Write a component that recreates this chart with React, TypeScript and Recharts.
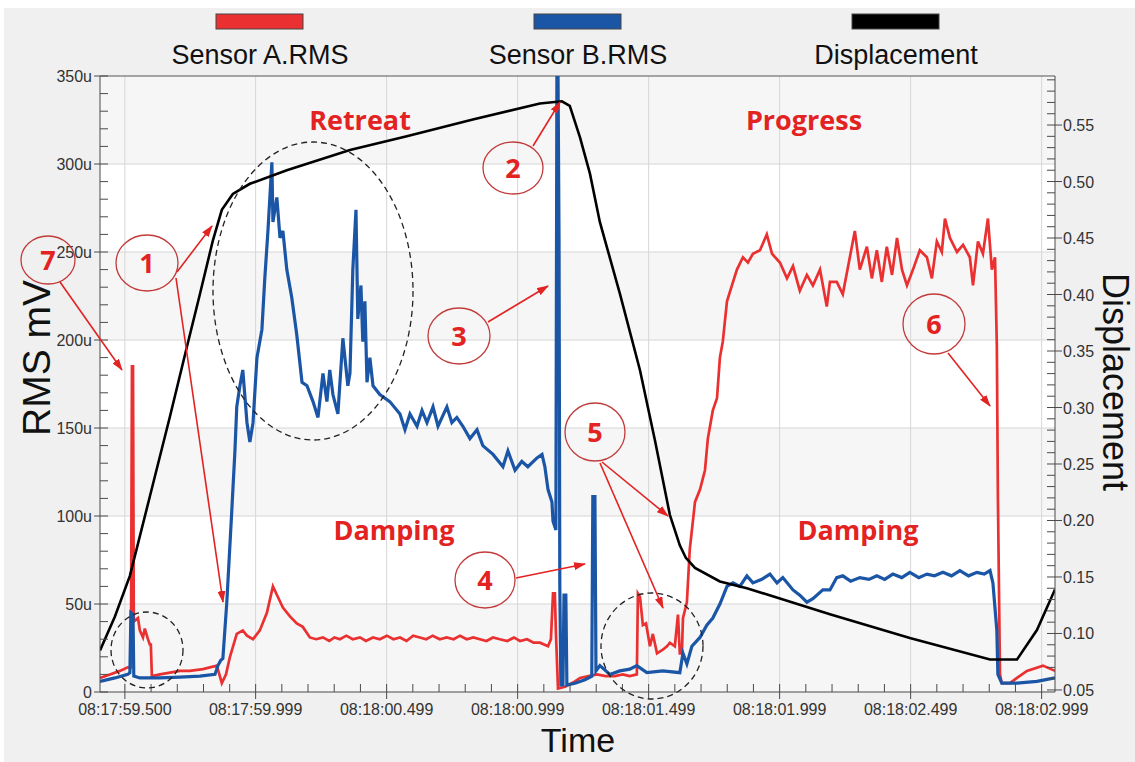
import React from 'react';
import { LineChart, Line, XAxis, YAxis, ReferenceLine, ReferenceArea } from 'recharts';

// time axis: milliseconds after 08:17:59.000
const dispTime = [405, 462, 519, 595, 672, 737, 786, 836, 870, 912, 977, 1118, 1359, 1576, 1828, 2084, 2168, 2198, 2237, 2275, 2313, 2389, 2466, 2523, 2580, 2618, 2641, 2676, 2771, 2874, 3000, 3191, 3496, 3802, 3905, 3981, 4050];
const dispValue = [0.085, 0.115, 0.151, 0.221, 0.292, 0.354, 0.4, 0.448, 0.475, 0.489, 0.498, 0.51, 0.528, 0.54, 0.555, 0.569, 0.571, 0.567, 0.539, 0.507, 0.464, 0.401, 0.333, 0.271, 0.205, 0.178, 0.167, 0.158, 0.146, 0.14, 0.131, 0.117, 0.096, 0.077, 0.077, 0.103, 0.139];

const sensorATime = [405, 443, 481, 511, 523, 527, 531, 534, 550, 557, 569, 576, 588, 595, 599, 603, 634, 672, 710, 748, 798, 851, 870, 886, 901, 927, 950, 966, 989, 1015, 1042, 1065, 1084, 1103, 1130, 1156, 1179, 1206, 1230, 1256, 1280, 1300, 1321, 1345, 1370, 1397, 1420, 1447, 1473, 1500, 1525, 1550, 1575, 1600, 1626, 1650, 1675, 1702, 1728, 1755, 1779, 1805, 1830, 1855, 1880, 1905, 1931, 1960, 1985, 2008, 2035, 2060, 2084, 2115, 2126, 2134, 2141, 2145, 2153, 2180, 2218, 2237, 2270, 2302, 2335, 2370, 2400, 2427, 2454, 2458, 2466, 2477, 2489, 2504, 2515, 2531, 2553, 2569, 2580, 2599, 2611, 2618, 2626, 2630, 2645, 2656, 2676, 2695, 2714, 2725, 2744, 2760, 2771, 2782, 2798, 2817, 2836, 2859, 2878, 2897, 2924, 2950, 2970, 3000, 3027, 3050, 3076, 3103, 3126, 3153, 3179, 3191, 3217, 3240, 3267, 3286, 3305, 3332, 3351, 3370, 3389, 3408, 3428, 3447, 3466, 3485, 3508, 3534, 3561, 3580, 3599, 3618, 3630, 3649, 3676, 3699, 3725, 3737, 3756, 3775, 3794, 3809, 3821, 3828, 3832, 3840, 3847, 3878, 3905, 3943, 4004, 4050];
const sensorARms = [8, 10, 12, 14, 14, 185, 185, 40, 42, 35, 31, 36, 30, 27, 27, 9, 10, 11, 12, 12, 13, 15, 5, 10, 20, 33, 35, 32, 30, 35, 45, 60, 54, 48, 43, 39, 37, 31, 30, 31, 29, 31, 30, 32, 30, 31, 29, 31, 30, 32, 30, 31, 29, 32, 31, 30, 32, 30, 31, 30, 32, 30, 31, 30, 29, 31, 30, 29, 31, 29, 30, 28, 28, 26, 30, 56, 56, 34, 2, 3, 6, 8, 9, 10, 9, 9, 10, 9, 10, 56, 54, 38, 39, 26, 33, 22, 24, 26, 28, 26, 44, 22, 22, 42, 51, 81, 108, 115, 126, 144, 160, 167, 190, 199, 222, 231, 240, 247, 244, 249, 251, 260, 249, 244, 235, 242, 228, 237, 231, 240, 219, 233, 233, 226, 247, 262, 240, 253, 235, 251, 233, 253, 237, 258, 240, 231, 240, 251, 247, 235, 256, 250, 269, 258, 250, 254, 247, 231, 256, 249, 269, 240, 247, 197, 112, 10, 5, 5, 8, 12, 15, 12];

const sensorBTime = [405, 462, 511, 519, 523, 531, 534, 557, 634, 710, 786, 844, 855, 866, 874, 889, 908, 920, 927, 939, 950, 966, 977, 989, 1004, 1023, 1034, 1046, 1061, 1065, 1080, 1092, 1103, 1118, 1137, 1156, 1176, 1195, 1218, 1237, 1256, 1271, 1282, 1294, 1313, 1332, 1351, 1359, 1370, 1382, 1389, 1401, 1408, 1416, 1424, 1435, 1447, 1473, 1511, 1550, 1569, 1588, 1615, 1634, 1653, 1676, 1695, 1729, 1748, 1767, 1790, 1817, 1844, 1866, 1905, 1943, 1962, 1989, 2015, 2038, 2073, 2092, 2103, 2115, 2130, 2134, 2145, 2149, 2153, 2157, 2160, 2164, 2172, 2176, 2183, 2187, 2218, 2256, 2282, 2286, 2294, 2298, 2313, 2351, 2389, 2427, 2454, 2492, 2553, 2618, 2630, 2645, 2664, 2695, 2721, 2744, 2771, 2798, 2821, 2847, 2874, 2897, 2931, 2962, 2989, 3011, 3050, 3076, 3103, 3126, 3164, 3191, 3217, 3240, 3270, 3305, 3340, 3370, 3400, 3431, 3465, 3496, 3530, 3561, 3590, 3622, 3655, 3687, 3720, 3752, 3780, 3802, 3813, 3828, 3832, 3847, 3905, 3981, 4050];
const sensorBRms = [6, 8, 10, 11, 45, 44, 9, 8, 8, 8.5, 9, 10, 15, 18, 19, 51, 103, 137, 162, 174, 183, 153, 142, 153, 190, 206, 235, 262, 301, 267, 281, 258, 262, 240, 224, 203, 176, 174, 165, 156, 181, 165, 183, 169, 158, 201, 174, 181, 240, 274, 212, 231, 199, 222, 176, 190, 174, 169, 165, 158, 149, 158, 151, 160, 153, 162, 151, 162, 153, 156, 151, 144, 149, 140, 135, 128, 137, 126, 131, 128, 133, 135, 128, 115, 108, 97, 92, 360, 355, 258, 60, 4, 4, 55, 55, 4, 5, 7, 9, 111, 111, 12, 15, 10, 12, 13, 15, 11, 12, 11, 22, 16, 26, 31, 38, 42, 50, 60, 62, 60, 66, 62, 64, 67, 62, 65, 58, 55, 51, 53, 58, 58, 65, 66, 63, 65, 64, 66, 64, 67, 65, 68, 65, 67, 66, 68, 66, 69, 66, 68, 67, 69, 62, 35, 10, 5, 5, 6, 8];

const timeTicks = [500, 999, 1499, 1999, 2499, 2999, 3499, 3999];
const timeLabels = ['08:17:59.500', '08:17:59.999', '08:18:00.499', '08:18:00.999', '08:18:01.499', '08:18:01.999', '08:18:02.499', '08:18:02.999'];
const rmsMajor = [0, 50, 100, 150, 200, 250, 300, 350];

const seriesNames = ['Sensor A.RMS', 'Sensor B.RMS', 'Displacement'];
const seriesColors = ['#ea3030', '#1b56a6', '#000000'];

const zip = (ts: number[], vs: number[]) => ts.map((t, i) => ({ t, v: vs[i] }));
const dispData = zip(dispTime, dispValue);
const aData = zip(sensorATime, sensorARms);
const bData = zip(sensorBTime, sensorBRms);

const xAllTicks: number[] = [];
timeTicks.forEach((s) => {
  xAllTicks.push(s);
  for (let k = 1; k < 5; k++) if (s + k * 100 < 4050) xAllTicks.push(s + k * 100);
});
const rmsTicks: number[] = [];
for (let v = 0; v <= 350; v += 10) rmsTicks.push(v);
const dispTicks: number[] = [];
for (let k = 5; k <= 59; k++) dispTicks.push(k / 100);

const AX = '#4a4a4a';
const FONT = '"Liberation Sans", Arial, sans-serif';

const XTick = (props: any) => {
  const { x, y, payload } = props;
  const idx = timeTicks.indexOf(payload.value);
  if (idx < 0) return <line x1={x} x2={x} y1={y} y2={y - 8} stroke={AX} />;
  return (
    <g>
      <line x1={x} x2={x} y1={y - 8} y2={y + 7} stroke={AX} />
      <text x={x} y={y + 23} textAnchor="middle" fontSize={16} fontFamily={FONT} fill="#333">
        {timeLabels[idx]}
      </text>
    </g>
  );
};

const LeftTick = (props: any) => {
  const { x, y, payload } = props;
  const v = payload.value;
  const major = v % 50 === 0;
  return (
    <g>
      <line x1={x} x2={x + 8} y1={y} y2={y} stroke={AX} />
      {major && <line x1={x - 6} x2={x} y1={y} y2={y} stroke={AX} />}
      {major && (
        <text x={x - 8} y={y + 6} textAnchor="end" fontSize={16} fontFamily={FONT} fill="#333">
          {v === 0 ? '0' : `${v}u`}
        </text>
      )}
    </g>
  );
};

const RightTick = (props: any) => {
  const { x, y, payload } = props;
  const v = payload.value;
  const major = Math.round(v * 100) % 5 === 0 && v < 0.56;
  return (
    <g>
      <line x1={x - 8} x2={x} y1={y} y2={y} stroke={AX} />
      {major && <line x1={x} x2={x + 7} y1={y} y2={y} stroke={AX} />}
      {major && (
        <text x={x + 8} y={y + 6} textAnchor="start" fontSize={16} fontFamily={FONT} fill="#333">
          {v.toFixed(2)}
        </text>
      )}
    </g>
  );
};

const RED = '#e32222';
const CIRCLE = '#c23b3b';

const circles = [
  { n: '7', cx: 48, cy: 260, rx: 27, ry: 24 },
  { n: '1', cx: 147, cy: 263, rx: 31, ry: 28 },
  { n: '2', cx: 513, cy: 168, rx: 30, ry: 26 },
  { n: '3', cx: 459, cy: 336, rx: 31, ry: 28 },
  { n: '4', cx: 485, cy: 580, rx: 30, ry: 28 },
  { n: '5', cx: 595, cy: 432, rx: 30, ry: 29 },
  { n: '6', cx: 934, cy: 324, rx: 31, ry: 30 },
];
const arrows = [
  [60, 282, 122, 370],
  [177, 272, 212, 226],
  [176, 278, 223, 602],
  [533, 146, 560, 102],
  [488, 322, 548, 286],
  [516, 578, 585, 564],
  [602, 462, 668, 516],
  [600, 463, 663, 608],
  [948, 353, 990, 406],
];
const dashed = [
  { cx: 313, cy: 291, rx: 100, ry: 149 },
  { cx: 147, cy: 650, rx: 36, ry: 38 },
  { cx: 652, cy: 646, rx: 51, ry: 53 },
];
const phaseLabels = [
  { text: 'Retreat', x: 360, y: 130 },
  { text: 'Progress', x: 804, y: 130 },
  { text: 'Damping', x: 394, y: 540 },
  { text: 'Damping', x: 858, y: 540 },
];

export default function App() {
  return (
    <div style={{ position: 'absolute', left: 0, top: 0, width: 1135, height: 762, background: '#fff', overflow: 'hidden' }}>
      <div style={{ position: 'absolute', left: 4, top: 8, right: 0, bottom: 0, background: '#f0f0f0' }} />
      <div style={{ position: 'absolute', left: 0, top: 0 }}>
        <LineChart width={1135} height={762} margin={{ top: 76, right: 0, bottom: 0, left: 0 }}>
          <XAxis
            xAxisId="t"
            dataKey="t"
            type="number"
            domain={[405, 4050]}
            allowDataOverflow
            ticks={xAllTicks}
            interval={0}
            height={70}
            tickSize={0}
            tickMargin={0}
            tickLine={false}
            axisLine={{ stroke: AX }}
            tick={<XTick />}
          />
          <YAxis
            yAxisId="rms"
            orientation="left"
            type="number"
            domain={[0, 350]}
            allowDataOverflow
            ticks={rmsTicks}
            interval={0}
            width={100}
            tickSize={0}
            tickMargin={0}
            tickLine={false}
            axisLine={{ stroke: AX }}
            tick={<LeftTick />}
          />
          <YAxis
            yAxisId="disp"
            orientation="right"
            type="number"
            domain={[0.0482, 0.5934]}
            allowDataOverflow
            ticks={dispTicks}
            interval={0}
            width={80}
            tickSize={0}
            tickMargin={0}
            tickLine={false}
            axisLine={{ stroke: AX }}
            tick={<RightTick />}
          />
          {rmsMajor.slice(0, 7).map((v, i) => (
            <ReferenceArea
              key={`band-${v}`}
              xAxisId="t"
              yAxisId="rms"
              y1={v}
              y2={v + 50}
              fill={i % 2 === 0 ? '#f6f6f6' : '#ffffff'}
              fillOpacity={1}
              stroke="none"
            />
          ))}
          {rmsMajor.slice(1, 7).map((v) => (
            <ReferenceLine key={`h-${v}`} xAxisId="t" yAxisId="rms" y={v} stroke="#d6d6d6" />
          ))}
          {timeTicks.map((t) => (
            <ReferenceLine key={`v-${t}`} xAxisId="t" yAxisId="rms" x={t} stroke="#d6d6d6" />
          ))}
          <ReferenceLine xAxisId="t" yAxisId="rms" y={350} stroke="#555" />
          <Line
            xAxisId="t"
            yAxisId="rms"
            data={aData}
            dataKey="v"
            name={seriesNames[0]}
            stroke={seriesColors[0]}
            strokeWidth={2.7}
            dot={false}
            type="linear"
            isAnimationActive={false}
          />
          <Line
            xAxisId="t"
            yAxisId="rms"
            data={bData}
            dataKey="v"
            name={seriesNames[1]}
            stroke={seriesColors[1]}
            strokeWidth={3.2}
            dot={false}
            type="linear"
            isAnimationActive={false}
          />
          <Line
            xAxisId="t"
            yAxisId="disp"
            data={dispData}
            dataKey="v"
            name={seriesNames[2]}
            stroke={seriesColors[2]}
            strokeWidth={2.6}
            dot={false}
            type="linear"
            isAnimationActive={false}
          />
        </LineChart>
      </div>
      <svg width={1135} height={762} style={{ position: 'absolute', left: 0, top: 0, pointerEvents: 'none' }}>
        <defs>
          <marker id="ah" viewBox="0 0 12 8" refX="11" refY="4" markerWidth="12" markerHeight="8" markerUnits="userSpaceOnUse" orient="auto">
            <path d="M0,0 L12,4 L0,8 z" fill={RED} />
          </marker>
        </defs>
        {seriesNames.map((name, i) => {
          const cx = [260, 578, 896][i];
          return (
            <g key={name}>
              <rect x={cx - 44} y={14} width={87} height={15} fill={seriesColors[i]} stroke="#444" strokeWidth={1} />
              <text x={cx} y={64} textAnchor="middle" fontSize={27} fontFamily={FONT} fill="#111">
                {name}
              </text>
            </g>
          );
        })}
        <text transform="translate(50,358) rotate(-90)" textAnchor="middle" fontSize={39} fontFamily={FONT} fill="#111">
          RMS mV
        </text>
        <text transform="translate(1103,382) rotate(90)" textAnchor="middle" fontSize={36} fontFamily={FONT} fill="#111">
          Displacement
        </text>
        <text x={578} y={752} textAnchor="middle" fontSize={34} fontFamily={FONT} fill="#111">
          Time
        </text>
        {dashed.map((d, i) => (
          <ellipse key={`d${i}`} cx={d.cx} cy={d.cy} rx={d.rx} ry={d.ry} fill="none" stroke="#222" strokeWidth={1.3} strokeDasharray="6 4" />
        ))}
        {arrows.map((a, i) => (
          <line key={`a${i}`} x1={a[0]} y1={a[1]} x2={a[2]} y2={a[3]} stroke={RED} strokeWidth={1.6} markerEnd="url(#ah)" />
        ))}
        {circles.map((c) => (
          <g key={c.n}>
            <ellipse cx={c.cx} cy={c.cy} rx={c.rx} ry={c.ry} fill="none" stroke={CIRCLE} strokeWidth={1.3} />
            <text x={c.cx} y={c.cy + 10} textAnchor="middle" fontSize={27} fontWeight={700} fontFamily='"Open Sans", sans-serif' fill={RED}>
              {c.n}
            </text>
          </g>
        ))}
        {phaseLabels.map((p, i) => (
          <text key={`p${i}`} x={p.x} y={p.y} textAnchor="middle" fontSize={27} fontWeight={700} fontFamily='"Open Sans", sans-serif' fill={RED}>
            {p.text}
          </text>
        ))}
      </svg>
    </div>
  );
}
